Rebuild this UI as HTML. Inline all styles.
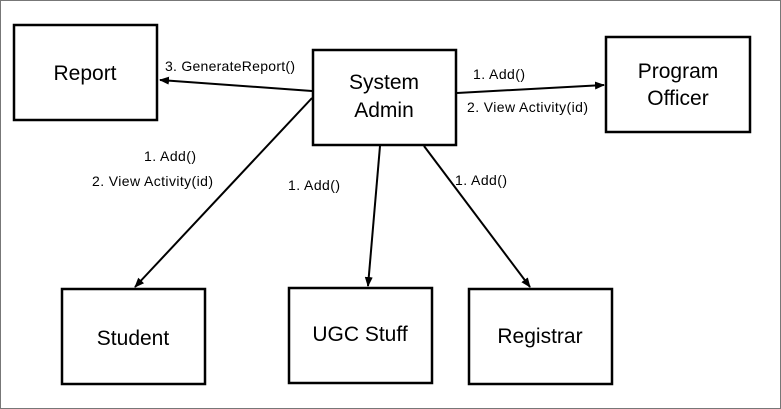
<!DOCTYPE html>
<html><head><style>
html,body{margin:0;padding:0;background:#fff;}
svg{display:block;}
text{font-family:"Liberation Sans",sans-serif;fill:#000;}
</style></head><body>
<svg width="781" height="409" viewBox="0 0 781 409" xmlns="http://www.w3.org/2000/svg">
<defs><marker id="a" markerWidth="10" markerHeight="8" refX="9" refY="4" orient="auto" markerUnits="userSpaceOnUse"><path d="M0,0 L10,4 L0,8 z" fill="#000"/></marker></defs>
<rect x="0.5" y="0.5" width="780" height="408" fill="#fff" stroke="#777" stroke-width="1"/>
<g fill="#fff" stroke="#000" stroke-width="2.5">
<rect x="14" y="25" width="143" height="95"/>
<rect x="313" y="50" width="143" height="95"/>
<rect x="606" y="37" width="144" height="95"/>
<rect x="62" y="289" width="143" height="95"/>
<rect x="289" y="288" width="143" height="95"/>
<rect x="469" y="289" width="143" height="95"/>
</g>
<g stroke="#000" stroke-width="2" marker-end="url(#a)">
<line x1="312" y1="91" x2="160" y2="80"/>
<line x1="457" y1="93" x2="604" y2="85"/>
<line x1="312" y1="98" x2="135" y2="287"/>
<line x1="380" y1="146" x2="368" y2="286"/>
<line x1="424" y1="146" x2="530" y2="287"/>
</g>
<g font-size="21" text-anchor="middle">
<text x="85" y="80">Report</text>
<text x="384" y="89">System</text>
<text x="384" y="117">Admin</text>
<text x="678" y="78">Program</text>
<text x="678" y="105">Officer</text>
<text x="133" y="345">Student</text>
<text x="360" y="341">UGC Stuff</text>
<text x="540" y="343">Registrar</text>
</g>
<g font-size="14">
<text x="165" y="71" textLength="130">3. GenerateReport()</text>
<text x="473" y="79" textLength="52">1. Add()</text>
<text x="467" y="112" textLength="121">2. View Activity(id)</text>
<text x="144" y="161" textLength="52">1. Add()</text>
<text x="92" y="186" textLength="121">2. View Activity(id)</text>
<text x="288" y="190" textLength="52">1. Add()</text>
<text x="455" y="185" textLength="52">1. Add()</text>
</g>
</svg>
</body></html>
